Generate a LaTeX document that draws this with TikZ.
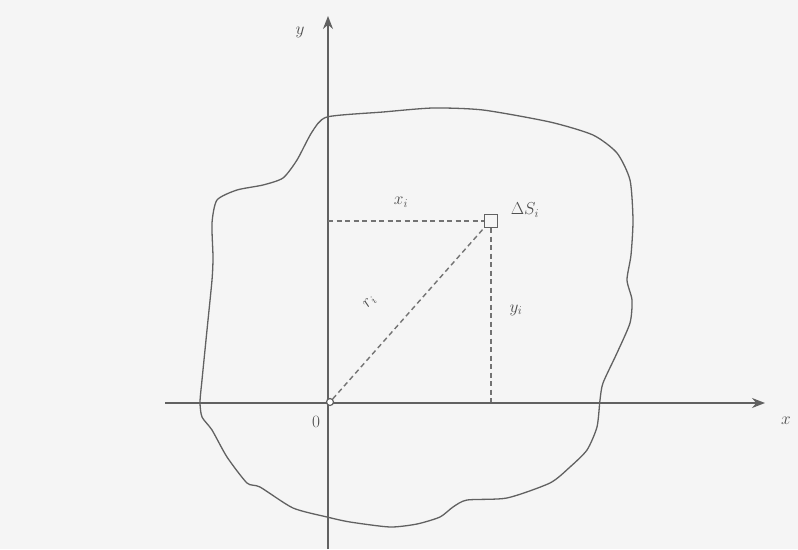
\documentclass[tikz,border=0pt]{standalone}
\usetikzlibrary{arrows.meta}
\begin{document}
\begin{tikzpicture}[x=1pt,y=-1pt,
  ln/.style={draw=black!62, line width=1.4pt},
  dsh/.style={draw=black!55, line width=1.4pt, dash pattern=on 5pt off 3.5pt},
  lbl/.style={text=black!70, font=\fontsize{18}{20}\selectfont},
  ax/.style={ln, -{Stealth[length=13pt,width=10pt]}}]
\fill[black!4] (0,0) rectangle (798,549);
\useasboundingbox (0,0) rectangle (798,549);
% outline
\draw[ln, line width=1.3pt] plot[smooth cycle, tension=0.4] coordinates {
 (327,117) (383,112) (433,108) (483,110) (550,122) (593,135) (617,153) (630,180)
 (633,220) (631,255) (627,280) (632,300) (630,323) (617,353) (603,383) (600,400)
 (597,427) (587,450) (570,467) (550,483) (507,498) (467,500) (453,507) (440,517)
 (417,524) (390,527) (350,522) (327,517) (293,508) (260,487) (247,483) (227,457)
 (212,430) (202,417) (200,402) (202,380) (207,330) (212,280) (213,257) (212,223)
 (217,200) (237,190) (263,185) (283,178) (297,160) (312,132)};
% axes
\coordinate (xs) at (165,403);
\coordinate (xe) at (765,403);
\coordinate (ys) at (328,549);
\coordinate (ye) at (328,16);
\draw[ax] (xs) -- (xe);
\draw[ax] (ys) -- (ye);
% nodes
\node[circle, draw=black!62, fill=white, line width=1.2pt, inner sep=0pt, minimum size=7pt] (O) at (330,402) {};
\node[rectangle, draw=black!62, fill=black!4, line width=1.3pt, inner sep=0pt, minimum size=13pt] (S) at (491,221) {};
\coordinate (yi) at (328,221);
\coordinate (xf) at (491,402);
\draw[dsh] (yi) -- (S.west);
\draw[dsh] (S.south) -- (xf);
\draw[dsh] (O) -- (S.south west);
% labels
\node[lbl] (ly) at (300,32) {$y$};
\node[lbl] (lx) at (786,421) {$x$};
\node[lbl] (l0) at (316,422) {$0$};
\node[lbl] (lxi) at (401,202) {$x_i$};
\node[lbl] (lyi) at (516,310) {$y_i$};
\node[lbl, rotate=48] (lri) at (370,302) {$r_i$};
\node[lbl] (lS) at (525,210) {$\Delta S_i$};
\end{tikzpicture}
\end{document}
